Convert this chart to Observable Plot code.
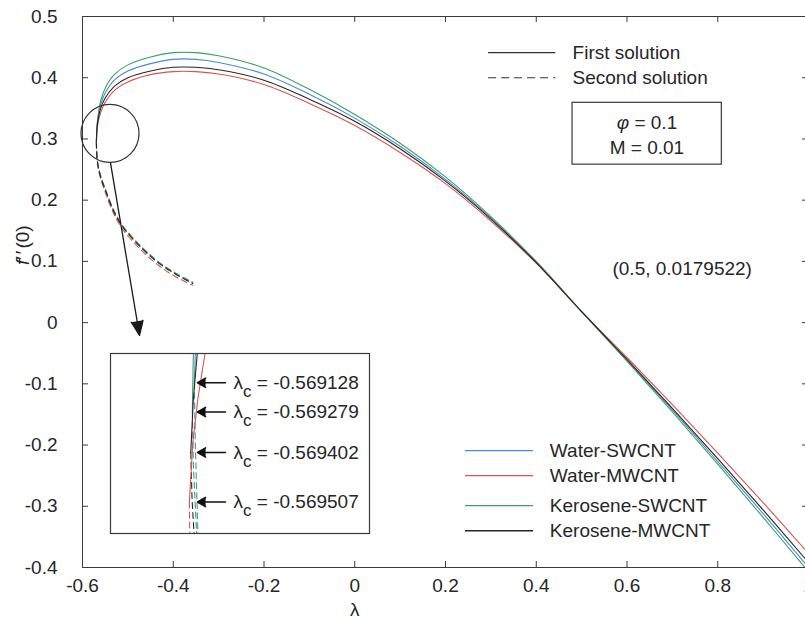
<!DOCTYPE html>
<html><head><meta charset="utf-8">
<script src="https://cdn.jsdelivr.net/npm/d3@7"></script>
<script src="https://cdn.jsdelivr.net/npm/@observablehq/plot@0.6"></script>
<style>
html,body{margin:0;padding:0;background:#fff;overflow:hidden;}
#wrap{position:relative;width:805px;height:631px;overflow:hidden;background:#fff;}
#main{position:absolute;left:0;top:0;width:812px;}
#inset{position:absolute;left:109px;top:352px;width:261px;}
svg{max-width:none !important;}
</style></head><body>
<div id="wrap"><div id="main"></div><div id="inset"></div></div>
<script>
// ---------- data ----------
const seriesNames = ["Water-SWCNT", "Water-MWCNT", "Kerosene-SWCNT", "Kerosene-MWCNT"];
const seriesColors = ["#4a8ccc", "#d9534f", "#3d9e68", "#262626"];

const criticalLambda = [-0.569128, -0.569507, -0.569279, -0.569402];
const criticalF = [0.296, 0.294, 0.297, 0.295];

// first solution (upper branch)
const lambdaFirst = [-0.568, -0.565, -0.56, -0.55, -0.53, -0.5, -0.45, -0.4, -0.35, -0.3, -0.2, -0.1, 0, 0.1, 0.2, 0.3, 0.4, 0.5, 0.6, 0.7, 0.8, 0.9, 1.0];
const firstWaterSWCNT    = [0.320, 0.338, 0.356, 0.375, 0.396, 0.411, 0.423, 0.430, 0.430, 0.425, 0.406, 0.373, 0.334, 0.288, 0.234, 0.171, 0.099, 0.018, -0.062, -0.143, -0.227, -0.312, -0.400];
const firstWaterMWCNT    = [0.314, 0.329, 0.343, 0.360, 0.379, 0.393, 0.405, 0.410, 0.410, 0.406, 0.389, 0.358, 0.322, 0.278, 0.227, 0.166, 0.097, 0.018, -0.057, -0.134, -0.213, -0.294, -0.377];
const firstKeroseneSWCNT = [0.322, 0.342, 0.362, 0.383, 0.405, 0.421, 0.434, 0.441, 0.441, 0.436, 0.416, 0.381, 0.340, 0.293, 0.238, 0.173, 0.100, 0.018, -0.063, -0.146, -0.231, -0.318, -0.407];
const firstKeroseneMWCNT = [0.318, 0.334, 0.350, 0.367, 0.386, 0.400, 0.411, 0.417, 0.417, 0.413, 0.396, 0.365, 0.329, 0.284, 0.231, 0.169, 0.098, 0.018, -0.060, -0.140, -0.222, -0.306, -0.392];

// second solution (lower branch)
const lambdaSecond = [-0.568, -0.565, -0.56, -0.55, -0.53, -0.51, -0.47, -0.43, -0.39, -0.357];
const secondWaterSWCNT    = [0.269, 0.254, 0.239, 0.218, 0.181, 0.156, 0.123, 0.097, 0.078, 0.065];
const secondWaterMWCNT    = [0.266, 0.250, 0.235, 0.213, 0.176, 0.151, 0.118, 0.092, 0.073, 0.061];
const secondKeroseneSWCNT = [0.270, 0.255, 0.240, 0.219, 0.182, 0.157, 0.124, 0.098, 0.079, 0.066];
const secondKeroseneMWCNT = [0.268, 0.253, 0.238, 0.217, 0.180, 0.155, 0.122, 0.096, 0.077, 0.064];

// inset (zoom near the turning points)
const insetFirstLambda = [[-0.56905, -0.569128], [-0.56830, -0.56885, -0.56925, -0.569507], [-0.56920, -0.56925, -0.569279], [-0.56890, -0.56920, -0.569402]];
const insetFirstF      = [[0.34, 0.327], [0.34, 0.32, 0.30, 0.274], [0.34, 0.325, 0.314], [0.34, 0.32, 0.296]];
const insetSecondLambda = [[-0.569128, -0.56905, -0.56885], [-0.569507, -0.56948], [-0.569279, -0.56920, -0.56895], [-0.569402, -0.56930, -0.56915]];
const insetSecondF      = [[0.327, 0.30, 0.26], [0.274, 0.26], [0.314, 0.29, 0.26], [0.296, 0.275, 0.26]];
const criticalLabelValues = ["-0.569128", "-0.569279", "-0.569402", "-0.569507"];
const criticalLabelF = [0.327, 0.314, 0.296, 0.274];

// ticks
const xTicks = [-0.6, -0.4, -0.2, 0, 0.2, 0.4, 0.6, 0.8, 1.0];
const xTickLabels = ["-0.6", "-0.4", "-0.2", "0", "0.2", "0.4", "0.6", "0.8", "1"];
const yTicks = [-0.4, -0.3, -0.2, -0.1, 0, 0.1, 0.2, 0.3, 0.4, 0.5];
const yTickLabels = ["-0.4", "-0.3", "-0.2", "-0.1", "0", "0.1", "0.2", "0.3", "0.4", "0.5"];

const annotationText = "(0.5, 0.0179522)";
const paramLines = ["φ = 0.1", "M = 0.01"];

// ---------- build rows ----------
const firstBranch = [firstWaterSWCNT, firstWaterMWCNT, firstKeroseneSWCNT, firstKeroseneMWCNT];
const secondBranch = [secondWaterSWCNT, secondWaterMWCNT, secondKeroseneSWCNT, secondKeroseneMWCNT];
const firstRows = seriesNames.flatMap((s, i) => [
  {series: s, lambda: criticalLambda[i], f: criticalF[i]},
  ...lambdaFirst.map((l, j) => ({series: s, lambda: l, f: firstBranch[i][j]}))
]);
const secondRows = seriesNames.flatMap((s, i) => [
  {series: s, lambda: criticalLambda[i], f: criticalF[i]},
  ...lambdaSecond.map((l, j) => ({series: s, lambda: l, f: secondBranch[i][j]}))
]);
const insetFirstRows = seriesNames.flatMap((s, i) => insetFirstLambda[i].map((l, j) => ({series: s, lambda: l, f: insetFirstF[i][j]})));
const insetSecondRows = seriesNames.flatMap((s, i) => insetSecondLambda[i].map((l, j) => ({series: s, lambda: l, f: insetSecondF[i][j]})));
const insetLabelRows = criticalLabelValues.map((v, i) => ({text: "λc = " + v, f: criticalLabelF[i]}));

// ---------- layout ----------
const W = 812, H = 631, mL = 82, mR = 4, mT = 16, mB = 64;
const frameW = W - mL - mR, frameH = H - mT - mB;
const axisColor = "#3a3a3a";
const textColor = "#262626";
const font = "'Liberation Sans', Arial, Helvetica, sans-serif";
const tick = 6;

// legend anchors (data units)
const legA = {x1: 0.295, x2: 0.443, tx: 0.480, yFirst: 0.441, ySecond: 0.400};
const box = {x1: 0.480, x2: 0.809, y1: 0.258, y2: 0.359, tx: 0.644, ty: [0.327, 0.286]};
const legB = {x1: 0.244, x2: 0.394, tx: 0.430, ys: [-0.209, -0.250, -0.299, -0.340]};
const ann = {x: 0.568, y: 0.088};
const zoomCircle = {x: -0.5394, y: 0.309};
const zoomArrow = {x1: -0.5383, y1: 0.261, x2: -0.4743, y2: -0.021};

const legBRows = seriesNames.map((s, i) => ({series: s, y: legB.ys[i]}));

const main = Plot.plot({
  width: W, height: H,
  marginLeft: mL, marginRight: mR, marginTop: mT, marginBottom: mB,
  x: {domain: [-0.6, 1.0], axis: null},
  y: {domain: [-0.4, 0.5], axis: null},
  color: {domain: seriesNames, range: seriesColors},
  style: {fontFamily: font, fontSize: "19px", color: textColor, background: "white", overflow: "visible", maxWidth: "none"},
  marks: [
    Plot.line(secondRows, {x: "lambda", y: "f", z: "series", stroke: "series", strokeWidth: 1.1, strokeDasharray: "6,4", curve: "catmull-rom"}),
    Plot.line(firstRows, {x: "lambda", y: "f", z: "series", stroke: "series", strokeWidth: 1.1, curve: "catmull-rom"}),
    Plot.frame({stroke: axisColor, strokeWidth: 1}),
    Plot.tickX(xTicks, {x: d => d, insetTop: frameH - tick, stroke: axisColor}),
    Plot.tickX(xTicks, {x: d => d, insetBottom: frameH - tick, stroke: axisColor}),
    Plot.tickY(yTicks, {y: d => d, insetRight: frameW - tick, stroke: axisColor}),
    Plot.tickY(yTicks, {y: d => d, insetLeft: frameW - tick, stroke: axisColor}),
    Plot.text(xTicks, {x: d => d, frameAnchor: "bottom", dy: 24, text: (d, i) => xTickLabels[i], fill: textColor}),
    Plot.text(yTicks, {y: d => d, frameAnchor: "left", dx: -25, textAnchor: "end", text: (d, i) => yTickLabels[i], fill: textColor}),
    Plot.text(["λ"], {x: () => 0, frameAnchor: "bottom", dy: 48, text: d => d, fill: textColor}),
    Plot.text(["f′′(0)"], {frameAnchor: "left", dx: -60, dy: -27, rotate: -90, text: d => d, fill: textColor}),
    // top legend: line styles
    Plot.ruleY([legA.yFirst], {x1: legA.x1, x2: legA.x2, stroke: "#333", strokeWidth: 1.1}),
    Plot.ruleY([legA.ySecond], {x1: legA.x1, x2: legA.x2, stroke: "#333", strokeWidth: 1.1, strokeDasharray: "8,5"}),
    Plot.text(["First solution"], {x: () => legA.tx, y: () => legA.yFirst, text: d => d, textAnchor: "start", fill: textColor}),
    Plot.text(["Second solution"], {x: () => legA.tx, y: () => legA.ySecond, text: d => d, textAnchor: "start", fill: textColor}),
    // parameter box
    Plot.rect([box], {x1: "x1", x2: "x2", y1: "y1", y2: "y2", fill: "white", stroke: axisColor, strokeWidth: 1.2}),
    Plot.text(paramLines, {x: () => box.tx, y: (d, i) => box.ty[i], text: d => d, fill: textColor}),
    // series legend
    Plot.ruleY(legBRows, {y: "y", x1: legB.x1, x2: legB.x2, stroke: "series", strokeWidth: 1.3}),
    Plot.text(legBRows, {x: () => legB.tx, y: "y", text: "series", textAnchor: "start", fill: textColor}),
    // annotation
    Plot.text([annotationText], {x: () => ann.x, y: () => ann.y, text: d => d, textAnchor: "start", fill: textColor}),
    // zoom circle and arrow
    Plot.dot([zoomCircle], {x: "x", y: "y", r: 29, stroke: "#333", fill: "none", strokeWidth: 1.2}),
    Plot.arrow([zoomArrow], {x1: "x1", y1: "y1", x2: "x2", y2: "y2", stroke: "#1a1a1a", fill: "#1a1a1a", strokeWidth: 1.3, headLength: 18, headAngle: 45})
  ]
});
document.getElementById("main").append(main);

// inset
const arrowTail = -0.56672, arrowTip = -0.568882;
const inset = Plot.plot({
  width: 261, height: 182, margin: 1,
  x: {domain: [-0.5756, -0.5556], axis: null},
  y: {domain: [0.26, 0.34], axis: null},
  color: {domain: seriesNames, range: seriesColors},
  style: {fontFamily: font, fontSize: "19px", color: textColor, background: "white", overflow: "visible", maxWidth: "none"},
  marks: [
    Plot.line(insetSecondRows, {x: "lambda", y: "f", z: "series", stroke: "series", strokeWidth: 1.1, strokeDasharray: "6,4", clip: true}),
    Plot.line(insetFirstRows, {x: "lambda", y: "f", z: "series", stroke: "series", strokeWidth: 1.1, clip: true}),
    Plot.frame({stroke: axisColor, strokeWidth: 1.2}),
    Plot.arrow(insetLabelRows, {x1: () => arrowTail, x2: () => arrowTip, y1: "f", y2: "f", stroke: "#111", fill: "#111", strokeWidth: 1.5, headLength: 14, headAngle: 60}),
    Plot.text(insetLabelRows, {x: () => arrowTail, y: "f", dx: 8, text: "text", textAnchor: "start", fill: textColor})
  ]
});
document.getElementById("inset").append(inset);

// rich text: subscripts and italics
const NS = "http://www.w3.org/2000/svg";
function ts(txt, attrs) { const t = document.createElementNS(NS, "tspan"); t.textContent = txt; for (const k in attrs) t.setAttribute(k, attrs[k]); return t; }
for (const t of inset.querySelectorAll("text")) {
  const s = t.textContent;
  if (s.startsWith("λc")) {
    t.textContent = "";
    t.append(ts("λ", {}), ts("c", {dy: "8", "font-size": "17"}), ts(s.slice(2), {dy: "-8"}));
  }
}
for (const t of main.querySelectorAll("text")) {
  const s = t.textContent;
  if (s === "φ = 0.1") { t.textContent = ""; t.append(ts("φ", {"font-style": "italic"}), ts(" = 0.1", {})); }
  if (s === "f′′(0)") { t.textContent = ""; t.append(ts("f", {"font-style": "italic"}), ts("′′", {"letter-spacing": "2"}), ts("(0)", {})); }
}
</script>
</body></html>
